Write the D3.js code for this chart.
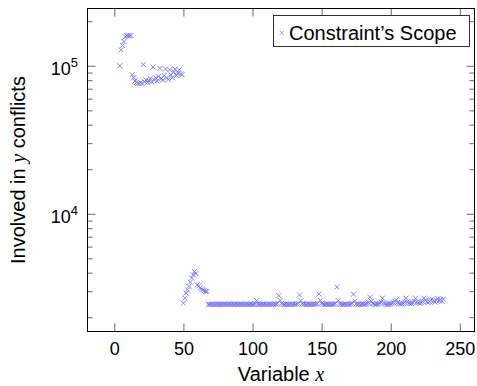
<!DOCTYPE html>
<html>
<head>
<meta charset="utf-8">
<script src="https://cdn.jsdelivr.net/npm/d3@7"></script>
<style>
  body { margin: 0; background: #fff; }
  text { font-family: "Liberation Sans", Arial, sans-serif; fill: #000; }
</style>
</head>
<body>
<svg id="chart"></svg>
<script>
// variable index of the first mark; one mark per consecutive variable
const firstVariable = 4;

// x = 4..49
const headConflicts = [
  100000, 128000, 137000, 146000, 157000, 160000, 160000, 159000, 160000, 87000,
  83000, 79000, 77000, 76000, 76000, 77000, 76000, 102000, 78000, 80000,
  77000, 79000, 82000, 78000, 98000, 80000, 83000, 79000, 85000, 96000,
  82000, 80000, 86000, 95000, 83000, 81000, 94000, 87000, 83000, 91000,
  95000, 86000, 89000, 94000, 88000, 87000
];
// x = 50..67
const bumpConflicts = [
  2490, 2690, 2910, 3060, 3230, 3450, 3680, 3870, 4070, 3950,
  3310, 3250, 3160, 3100, 3060, 3020, 2990, 2980
];
// x = 68..238
const tailConflicts = [
  2450, 2440, 2445, 2450, 2440, 2445, 2455, 2440, 2450, 2445,
  2440, 2450, 2445, 2455, 2440, 2445, 2450, 2440, 2455, 2445,
  2450, 2440, 2445, 2450, 2455, 2440, 2445, 2450, 2440, 2445,
  2450, 2455, 2440, 2445, 2460, 2590, 2450, 2445, 2440, 2455,
  2445, 2450, 2440, 2455, 2445, 2450, 2440, 2445, 2460, 2450,
  2470, 2800, 2600, 2480, 2450, 2445, 2455, 2440, 2450, 2445,
  2455, 2440, 2450, 2445, 2460, 2480, 2830, 2590, 2470, 2450,
  2445, 2440, 2455, 2450, 2445, 2440, 2450, 2455, 2445, 2470,
  2870, 2600, 2480, 2450, 2440, 2445, 2455, 2450, 2440, 2445,
  2450, 2455, 2470, 3200, 2590, 2460, 2450, 2440, 2445, 2455,
  2450, 2440, 2445, 2460, 2490, 2860, 2570, 2460, 2450, 2445,
  2440, 2455, 2450, 2445, 2460, 2480, 2510, 2730, 2560, 2470,
  2450, 2445, 2455, 2460, 2490, 2530, 2690, 2510, 2460, 2450,
  2445, 2455, 2460, 2480, 2510, 2560, 2620, 2520, 2470, 2455,
  2460, 2480, 2530, 2690, 2540, 2490, 2470, 2480, 2510, 2560,
  2690, 2540, 2500, 2480, 2510, 2560, 2690, 2600, 2540, 2510,
  2550, 2600, 2650, 2570, 2530, 2600, 2670, 2580, 2640, 2560, 2650
];

const xTicks = [0, 50, 100, 150, 200, 250];
const yMajorTicks = [1e4, 1e5];
const yMinorTicks = [2e3, 3e3, 4e3, 5e3, 6e3, 7e3, 8e3, 9e3,
  2e4, 3e4, 4e4, 5e4, 6e4, 7e4, 8e4, 9e4, 2e5];

const seriesName = "Constraint\u2019s Scope";

const conflicts = headConflicts.concat(bumpConflicts, tailConflicts);
const points = conflicts.map((v, i) => ({ x: firstVariable + i, y: v }));

const width = 477, height = 386;
const box = { left: 87.5, right: 474.5, top: 8.5, bottom: 331.5 };
const markColor = "#7373ff";

const svg = d3.select("#chart").attr("width", width).attr("height", height);

const x = d3.scaleLinear().domain([-19.4, 260.6]).range([box.left, box.right]);
const y = d3.scaleLog().domain([1602, 243800]).range([box.bottom, box.top]);

// ticks point inwards on all four sides
function tickStyle(g) {
  g.select(".domain").remove();
  g.selectAll(".tick line").attr("stroke", "#000").attr("stroke-width", 0.6);
}

svg.append("g")
  .attr("transform", `translate(0,${box.bottom})`)
  .call(d3.axisBottom(x).tickValues(xTicks).tickSize(-8).tickPadding(10.5))
  .call(tickStyle)
  .call(g => g.selectAll("text").attr("font-size", 18).attr("font-family", null));

svg.append("g")
  .attr("transform", `translate(0,${box.top})`)
  .call(d3.axisTop(x).tickValues(xTicks).tickSize(-8).tickFormat(""))
  .call(tickStyle);

svg.append("g")
  .attr("transform", `translate(${box.left},0)`)
  .call(d3.axisLeft(y).tickValues(yMajorTicks).tickSize(-8).tickFormat(""))
  .call(tickStyle);
svg.append("g")
  .attr("transform", `translate(${box.left},0)`)
  .call(d3.axisLeft(y).tickValues(yMinorTicks).tickSize(-5).tickFormat(""))
  .call(tickStyle);
svg.append("g")
  .attr("transform", `translate(${box.right},0)`)
  .call(d3.axisRight(y).tickValues(yMajorTicks).tickSize(-8).tickFormat(""))
  .call(tickStyle);
svg.append("g")
  .attr("transform", `translate(${box.right},0)`)
  .call(d3.axisRight(y).tickValues(yMinorTicks).tickSize(-5).tickFormat(""))
  .call(tickStyle);

// y tick labels as 10^k
const yLab = svg.append("g").selectAll("text")
  .data(yMajorTicks)
  .join("text")
  .attr("x", 78)
  .attr("y", d => y(d) + 9)
  .attr("text-anchor", "end")
  .attr("font-size", 18);
yLab.append("tspan").text("10");
yLab.append("tspan")
  .attr("font-size", 13)
  .attr("dy", -8)
  .text(d => Math.round(Math.log10(d)));

// marks
const cross = "M-2.5,-2.5L2.5,2.5M-2.5,2.5L2.5,-2.5";
svg.append("g")
  .selectAll("path")
  .data(points)
  .join("path")
  .attr("transform", d => `translate(${x(d.x)},${y(d.y)})`)
  .attr("d", cross)
  .attr("fill", "none")
  .attr("stroke", markColor)
  .attr("stroke-width", 0.9);

// frame
svg.append("rect")
  .attr("x", box.left).attr("y", box.top)
  .attr("width", box.right - box.left).attr("height", box.bottom - box.top)
  .attr("fill", "none").attr("stroke", "#000").attr("stroke-width", 1);

// axis titles
const xTitle = svg.append("text")
  .attr("x", (box.left + box.right) / 2)
  .attr("y", 381)
  .attr("text-anchor", "middle")
  .attr("font-size", 20);
xTitle.append("tspan").text("Variable ");
xTitle.append("tspan").attr("font-family", "Liberation Serif, serif").attr("font-style", "italic").text("x");

const yTitle = svg.append("text")
  .attr("transform", `translate(24.5,${(box.top + box.bottom) / 2}) rotate(-90)`)
  .attr("text-anchor", "middle")
  .attr("font-size", 20);
yTitle.append("tspan").text("Involved in ");
yTitle.append("tspan").attr("font-family", "Liberation Serif, serif").attr("font-style", "italic").text("y");
yTitle.append("tspan").text(" conflicts");

// legend
const legend = svg.append("g");
legend.append("rect")
  .attr("x", 273.5).attr("y", 15.5).attr("width", 196).attr("height", 31)
  .attr("fill", "#fff").attr("stroke", "#000").attr("stroke-width", 0.8);
legend.append("path")
  .attr("transform", "translate(281.7,32.7)")
  .attr("d", "M-2,-2L2,2M-2,2L2,-2")
  .attr("fill", "none")
  .attr("stroke", markColor)
  .attr("stroke-width", 0.7);
legend.append("text")
  .attr("x", 289).attr("y", 39.5)
  .attr("font-size", 20)
  .text(seriesName);
</script>
</body>
</html>
